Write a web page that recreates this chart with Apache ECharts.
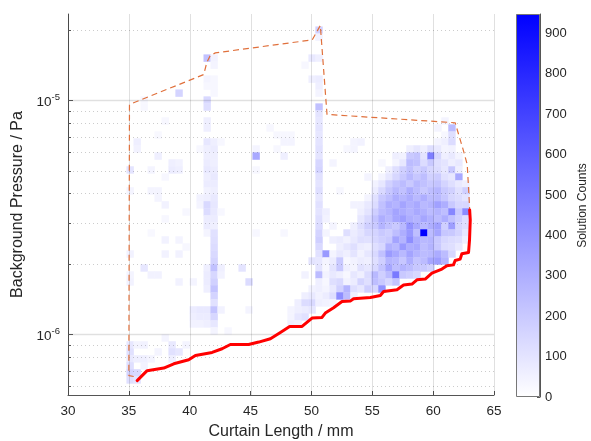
<!DOCTYPE html>
<html>
<head>
<meta charset="utf-8">
<script src="https://cdn.jsdelivr.net/npm/echarts@6/dist/echarts.min.js"></script>
<style>
  html, body { margin: 0; padding: 0; background: #fff; }
  #chart { width: 591px; height: 441px; }
</style>
</head>
<body>
<div id="chart"></div>
<script>
// histogram bin centres (curtain length in mm, pressure in Pa)
const xBins = [35.09, 35.67, 36.24, 36.82, 37.39, 37.97, 38.54, 39.11, 39.69, 40.27, 40.84, 41.42,
  41.99, 42.56, 43.14, 43.71, 44.29, 44.86, 45.44, 46.01, 46.59, 47.16, 47.74, 48.31, 48.89, 49.46,
  50.04, 50.61, 51.19, 51.76, 52.33, 52.91, 53.48, 54.06, 54.63, 55.21, 55.78, 56.36, 56.93, 57.51,
  58.08, 58.66, 59.23, 59.81, 60.38, 60.96, 61.53, 62.10, 62.68];
const yBins = [2.30e-5, 2.14e-5, 2.00e-5, 1.867e-5, 1.743e-5, 1.627e-5, 1.519e-5, 1.417e-5, 1.323e-5,
  1.235e-5, 1.153e-5, 1.076e-5, 1.005e-5, 9.38e-6, 8.76e-6, 8.18e-6, 7.63e-6, 7.12e-6, 6.65e-6, 6.21e-6,
  5.79e-6, 5.41e-6, 5.05e-6, 4.71e-6, 4.40e-6, 4.11e-6, 3.83e-6, 3.58e-6, 3.34e-6, 3.12e-6, 2.91e-6,
  2.715e-6, 2.535e-6, 2.366e-6, 2.208e-6, 2.061e-6, 1.924e-6, 1.796e-6, 1.677e-6, 1.565e-6, 1.461e-6,
  1.364e-6, 1.273e-6, 1.188e-6, 1.109e-6, 1.035e-6, 9.66e-7, 9.02e-7, 8.42e-7, 7.86e-7, 7.34e-7,
  6.85e-7, 6.39e-7];

// [x bin, y bin, solution count]
const cells = [
  [0,22,100],[0,25,40],[0,34,50],[0,37,40],[0,38,50],[0,47,90],[0,48,110],[0,49,80],[0,50,120],[0,51,160],[0,52,120],
  [1,18,60],[1,19,50],[1,47,40],[1,49,60],[1,51,140],[1,52,100],
  [2,12,30],[2,13,30],[2,36,90],[2,47,50],[2,49,60],[2,50,50],
  [3,22,40],[3,25,40],[3,31,25],[3,37,50],[3,49,40],
  [4,17,25],[4,20,60],[4,25,40],[4,26,40],[4,37,50],[4,48,40],
  [5,15,30],[5,23,30],[5,27,50],[5,29,30],[5,32,50],[5,34,50],[5,46,40],
  [6,21,60],[6,22,70],[6,47,80],[6,48,110],[6,49,60],
  [7,11,160],[7,21,50],[7,22,60],[7,32,40],[7,34,50],[7,38,50],[7,48,90],
  [8,28,30],[8,33,30],[8,47,40],
  [9,38,40],[9,42,70],[9,43,60],[9,44,50],
  [10,19,30],[10,26,50],[10,27,40],[10,42,80],[10,43,70],[10,44,50],
  [11,6,230],[11,9,40],[11,10,30],[11,12,140],[11,13,120],[11,15,60],[11,16,60],[11,18,90],[11,19,60],[11,20,60],
  [11,21,70],[11,22,80],[11,23,60],[11,24,70],[11,25,50],[11,26,60],[11,27,140],[11,28,130],[11,29,70],[11,30,70],
  [11,31,40],[11,36,60],[11,37,70],[11,38,70],[11,39,60],[11,42,80],[11,43,70],[11,44,60],
  [12,6,50],[12,7,40],[12,9,30],[12,10,30],[12,11,30],[12,18,60],[12,19,70],[12,20,60],[12,21,60],[12,22,70],
  [12,23,80],[12,24,70],[12,25,60],[12,26,80],[12,27,90],[12,28,80],[12,29,70],[12,30,60],[12,31,110],[12,32,120],
  [12,33,130],[12,34,140],[12,35,160],[12,36,230],[12,37,150],[12,38,170],[12,39,220],[12,40,160],[12,41,110],
  [12,42,220],[12,43,150],[12,44,90],[12,45,40],
  [13,18,30],[13,28,30],[13,36,60],[13,37,50],[13,42,50],
  [14,45,30],
  [16,36,100],
  [17,38,130],[17,42,40],
  [18,19,40],[18,20,320],[18,22,30],[18,31,30],
  [20,16,30],
  [21,17,30],[21,19,30],
  [22,17,30],[22,18,40],[22,20,60],[22,31,30],
  [23,17,30],[23,18,40],[23,42,40],[23,43,40],[23,44,60],
  [24,41,60],[24,42,60],[24,43,90],[24,44,50],
  [25,7,30],[25,37,50],[25,40,60],[25,41,130],[25,42,70],[25,43,110],
  [26,6,80],[26,9,60],[26,35,100],[26,39,50],[26,40,80],[26,41,140],[26,42,90],
  [27,2,170],[27,3,50],[27,6,60],[27,9,70],[27,10,60],[27,11,40],[27,13,230],[27,14,100],[27,15,90],[27,16,100],
  [27,17,90],[27,18,100],[27,19,110],[27,20,100],[27,21,150],[27,22,160],[27,23,110],[27,24,100],[27,25,120],
  [27,26,90],[27,27,110],[27,28,100],[27,29,120],[27,30,130],[27,31,160],[27,32,180],[27,33,140],[27,34,110],
  [27,35,90],[27,36,100],[27,37,250],[27,38,60],[27,39,60],[27,40,50],[27,41,60],
  [28,28,60],[28,29,50],[28,31,40],[28,34,380],[28,35,40],[28,36,30],[28,37,50],[28,38,30],[28,39,40],[28,40,70],[28,41,50],
  [29,21,40],[29,30,40],[29,32,60],[29,34,40],[29,35,70],[29,36,100],[29,37,80],[29,38,120],[29,39,80],[29,40,120],[29,41,40],
  [30,25,30],[30,32,70],[30,33,60],[30,34,80],[30,35,200],[30,36,200],[30,37,60],[30,38,140],[30,39,170],[30,40,420],
  [31,19,30],[31,31,120],[31,32,50],[31,33,90],[31,34,60],[31,35,30],[31,36,60],[31,37,30],[31,38,50],[31,39,280],[31,40,250],
  [32,18,40],[32,19,40],[32,27,50],[32,30,60],[32,31,70],[32,32,80],[32,33,120],[32,34,100],[32,35,50],[32,36,40],
  [32,37,90],[32,38,70],[32,39,120],[32,40,60],
  [33,18,50],[33,27,50],[33,28,60],[33,29,90],[33,30,120],[33,31,100],[33,32,120],[33,33,70],[33,34,50],[33,35,70],
  [33,36,110],[33,37,60],[33,38,160],[33,39,90],
  [34,23,40],[34,26,40],[34,27,80],[34,28,100],[34,29,140],[34,30,180],[34,31,150],[34,32,110],[34,33,60],[34,34,90],
  [34,35,60],[34,36,90],[34,37,130],[34,38,120],[34,39,180],
  [35,24,50],[35,25,70],[35,26,110],[35,27,130],[35,28,180],[35,29,220],[35,30,200],[35,31,160],[35,32,150],[35,33,120],
  [35,34,140],[35,35,120],[35,36,140],[35,37,260],[35,38,240],[35,39,150],
  [36,21,30],[36,23,40],[36,24,90],[36,25,140],[36,26,200],[36,27,230],[36,28,250],[36,29,300],[36,30,280],[36,31,200],
  [36,32,180],[36,33,150],[36,34,230],[36,35,180],[36,36,220],[36,37,180],[36,38,200],[36,39,400],
  [37,22,60],[37,23,90],[37,24,170],[37,25,210],[37,26,240],[37,27,300],[37,28,280],[37,29,260],[37,30,230],[37,31,180],
  [37,32,200],[37,33,290],[37,34,370],[37,35,280],[37,36,330],[37,37,250],[37,38,150],
  [38,20,60],[38,21,40],[38,22,120],[38,23,150],[38,24,220],[38,25,260],[38,26,300],[38,27,280],[38,28,340],[38,29,330],
  [38,30,200],[38,31,240],[38,32,340],[38,33,260],[38,34,320],[38,35,260],[38,36,240],[38,37,500],[38,38,220],
  [39,20,50],[39,21,90],[39,22,180],[39,23,200],[39,24,250],[39,25,230],[39,26,270],[39,27,340],[39,28,310],[39,29,360],
  [39,30,260],[39,31,300],[39,32,280],[39,33,380],[39,34,260],[39,35,210],[39,36,280],[39,37,200],
  [40,19,60],[40,20,200],[40,21,250],[40,22,230],[40,23,260],[40,24,200],[40,25,300],[40,26,310],[40,27,290],[40,28,280],
  [40,29,300],[40,30,400],[40,31,380],[40,32,420],[40,33,300],[40,34,340],[40,35,300],[40,36,250],[40,37,180],
  [41,19,90],[41,20,220],[41,21,230],[41,22,170],[41,23,210],[41,24,260],[41,25,250],[41,26,260],[41,27,320],[41,28,320],
  [41,29,280],[41,30,320],[41,31,240],[41,32,300],[41,33,320],[41,34,280],[41,35,220],[41,36,210],[41,37,150],
  [42,19,60],[42,20,100],[42,21,130],[42,22,200],[42,23,240],[42,24,230],[42,25,200],[42,26,300],[42,27,260],[42,28,290],
  [42,29,330],[42,30,260],[42,31,948],[42,32,260],[42,33,240],[42,34,250],[42,35,250],[42,36,200],
  [43,19,120],[43,20,480],[43,21,200],[43,22,150],[43,23,170],[43,24,200],[43,25,240],[43,26,250],[43,27,280],[43,28,250],
  [43,29,290],[43,30,300],[43,31,250],[43,32,270],[43,33,280],[43,34,260],[43,35,330],[43,36,170],
  [44,16,40],[44,18,40],[44,19,80],[44,20,150],[44,21,120],[44,22,130],[44,23,190],[44,24,220],[44,25,270],[44,26,260],
  [44,27,350],[44,28,280],[44,29,250],[44,30,350],[44,31,330],[44,32,200],[44,33,200],[44,34,310],[44,35,360],
  [45,15,40],[45,17,30],[45,18,60],[45,19,40],[45,20,60],[45,21,100],[45,22,90],[45,23,110],[45,24,160],[45,25,200],
  [45,26,210],[45,27,300],[45,28,240],[45,29,300],[45,30,180],[45,31,210],[45,32,150],[45,33,130],[45,34,250],[45,35,280],
  [46,16,250],[46,17,120],[46,18,130],[46,19,50],[46,20,80],[46,21,60],[46,22,200],[46,23,90],[46,24,120],[46,25,170],
  [46,26,150],[46,27,200],[46,28,450],[46,29,230],[46,30,360],[46,31,200],[46,32,130],[46,33,120],[46,34,150],
  [47,20,40],[47,21,80],[47,22,60],[47,23,320],[47,24,80],[47,25,110],[47,26,130],[47,27,150],[47,28,200],[47,29,180],
  [47,30,150],[47,31,160],[47,32,120],[47,33,80],
  [48,24,60],[48,25,180],[48,26,100],[48,27,150],[48,28,430],[48,29,120],[48,30,120],[48,31,90],[48,32,60]
];

// lower boundary (red) and outer envelope (dashed)
const lowerX = [35.68, 36.50, 37.87, 38.69, 39.92, 40.47, 41.84, 42.66, 43.34, 44.84, 45.67, 46.63, 47.45, 48.21,
  49.23, 50.05, 50.87, 51.14, 51.82, 52.51, 53.19, 53.46, 54.84, 55.66, 55.93, 57.03, 57.57, 58.26, 58.67, 59.35,
  59.90, 60.72, 61.13, 61.67, 61.81, 62.22, 62.36, 62.91, 62.99, 63.05, 63.00];
const lowerY = [6.34e-7, 6.99e-7, 7.17e-7, 7.48e-7, 7.78e-7, 8.12e-7, 8.36e-7, 8.67e-7, 9.04e-7, 9.04e-7, 9.26e-7,
  9.57e-7, 1.018e-6, 1.08e-6, 1.08e-6, 1.173e-6, 1.18e-6, 1.232e-6, 1.298e-6, 1.381e-6, 1.386e-6, 1.418e-6,
  1.437e-6, 1.465e-6, 1.524e-6, 1.55e-6, 1.623e-6, 1.639e-6, 1.71e-6, 1.722e-6, 1.826e-6, 1.90e-6, 1.963e-6,
  1.98e-6, 2.067e-6, 2.096e-6, 2.21e-6, 2.237e-6, 2.535e-6, 3.08e-6, 3.40e-6];
const envX = [35.40, 35.00, 35.05, 35.20, 41.15, 41.41, 41.70, 42.11, 50.07, 50.73, 51.28, 61.81, 62.50, 62.80, 62.96, 63.00];
const envY = [6.6e-7, 6.65e-7, 9.6e-6, 9.75e-6, 1.29e-5, 1.454e-5, 1.558e-5, 1.596e-5, 1.814e-5, 2.09e-5, 8.71e-6,
  8.02e-6, 6.07e-6, 5.32e-6, 3.77e-6, 3.40e-6];

// axis ticks
const xTicks = [30, 35, 40, 45, 50, 55, 60, 65];
const yMajor = [1e-6, 1e-5];
const yMinor = [6e-7, 7e-7, 8e-7, 9e-7, 2e-6, 3e-6, 4e-6, 5e-6, 6e-6, 7e-6, 8e-6, 9e-6, 2e-5];

const xMin = 30, xMax = 65;
const yMin = 5.5e-7, yMax = 2.34e-5;
const countMax = 948;
const cellW = 0.575;                 // mm
const cellH = Math.pow(10, 0.015);   // half bin height in log space

const textColor = '#262626';
const axisColor = '#555';
const font = 'Liberation Sans';

const cellData = cells.map(([i, j, n]) => [xBins[i], yBins[j], n]);

function crisp(v) { return Math.round(v) + 0.5; }

const chart = echarts.init(document.getElementById('chart'), null, { renderer: 'canvas' });

const option = {
  animation: false,
  textStyle: { fontFamily: font },
  grid: [
    { left: 68, right: 97, top: 14, bottom: 46, outerBoundsMode: 'none', containLabel: false },
    { left: 516, top: 14, width: 24, height: 383, outerBoundsMode: 'none', containLabel: false }
  ],
  xAxis: [
    {
      type: 'value', gridIndex: 0, min: xMin, max: xMax, interval: 5,
      name: 'Curtain Length / mm', nameLocation: 'middle', nameGap: 29,
      nameTextStyle: { color: textColor, fontSize: 16, fontFamily: font },
      axisLine: { lineStyle: { color: axisColor } },
      axisTick: { inside: true, length: 4, lineStyle: { color: axisColor } },
      axisLabel: { color: textColor, fontSize: 13.5, margin: 9, fontFamily: font },
      splitLine: { show: false }
    },
    { type: 'category', gridIndex: 1, data: ['c'], show: false }
  ],
  yAxis: [
    {
      type: 'log', gridIndex: 0, min: yMin, max: yMax, logBase: 10,
      name: 'Background Pressure / Pa', nameLocation: 'middle', nameGap: 38,
      nameTextStyle: { color: textColor, fontSize: 16, fontFamily: font },
      axisLine: { show: true, lineStyle: { color: axisColor } },
      axisTick: { show: false },
      splitLine: { show: false },
      axisLabel: {
        margin: 8, showMinLabel: false, showMaxLabel: false,
        formatter: v => {
          const l = Math.log10(v), e = Math.round(l);
          return Math.abs(l - e) < 1e-6 ? '{b|10}{e|' + e + '}' : '';
        },
        rich: {
          b: { fontSize: 13.5, color: textColor, fontFamily: font, padding: [4, 0, 0, 0] },
          e: { fontSize: 9.5, color: textColor, fontFamily: font, padding: [0, 0, 6, 0] }
        }
      }
    },
    {
      type: 'value', gridIndex: 1, min: 0, max: countMax, interval: 100, position: 'right',
      name: 'Solution Counts', nameLocation: 'middle', nameGap: 37, nameRotate: 90,
      nameTextStyle: { color: textColor, fontSize: 12, fontFamily: font },
      axisLine: { show: true, lineStyle: { color: axisColor } },
      axisTick: { show: true, inside: true, length: 3, lineStyle: { color: axisColor } },
      axisLabel: { color: textColor, fontSize: 13, margin: 5, showMaxLabel: false, fontFamily: font },
      splitLine: { show: false }
    }
  ],
  visualMap: {
    show: false, type: 'continuous', seriesIndex: 0, dimension: 2,
    min: 0, max: countMax, inRange: { color: ['#ffffff', '#0000ff'] }
  },
  series: [
    {
      name: 'counts', type: 'custom', xAxisIndex: 0, yAxisIndex: 0, z: 2,
      encode: { x: 0, y: 1 },
      data: cellData,
      renderItem(params, api) {
        const x = api.value(0), y = api.value(1);
        const p0 = api.coord([x - cellW / 2, y / cellH]);
        const p1 = api.coord([x + cellW / 2, y * cellH]);
        return {
          type: 'rect',
          shape: { x: p0[0], y: p1[1], width: p1[0] - p0[0] + 0.4, height: p0[1] - p1[1] + 0.4 },
          style: { fill: api.visual('color') }
        };
      }
    },
    {
      name: 'xgrid', type: 'custom', xAxisIndex: 0, yAxisIndex: 0, z: 3, silent: true,
      encode: { x: 0, y: 1 },
      data: xTicks.map(v => [v, yMin]),
      renderItem(params, api) {
        const a = api.coord([api.value(0), yMin]);
        const b = api.coord([api.value(0), yMax]);
        const x = crisp(a[0]);
        return { type: 'line', shape: { x1: x, y1: a[1], x2: x, y2: b[1] },
          style: { stroke: 'rgba(0,0,0,0.12)', lineWidth: 1 } };
      }
    },
    {
      name: 'ymajor', type: 'custom', xAxisIndex: 0, yAxisIndex: 0, z: 3, silent: true,
      encode: { x: 0, y: 1 },
      data: yMajor.map(v => [xMin, v]),
      renderItem(params, api) {
        const a = api.coord([xMin, api.value(1)]);
        const b = api.coord([xMax, api.value(1)]);
        const y = crisp(a[1]);
        return { type: 'group', children: [
          { type: 'line', shape: { x1: a[0], y1: y, x2: b[0], y2: y },
            style: { stroke: 'rgba(0,0,0,0.12)', lineWidth: 1.5 } },
          { type: 'line', shape: { x1: a[0], y1: y, x2: a[0] + 5, y2: y },
            style: { stroke: axisColor, lineWidth: 1 } }
        ] };
      }
    },
    {
      name: 'yminor', type: 'custom', xAxisIndex: 0, yAxisIndex: 0, z: 3, silent: true,
      encode: { x: 0, y: 1 },
      data: yMinor.map(v => [xMin, v]),
      renderItem(params, api) {
        const a = api.coord([xMin, api.value(1)]);
        const b = api.coord([xMax, api.value(1)]);
        const y = crisp(a[1]);
        return { type: 'group', children: [
          { type: 'line', shape: { x1: a[0] + 1, y1: y, x2: b[0], y2: y },
            style: { stroke: 'rgba(0,0,0,0.2)', lineWidth: 1, lineDash: [1, 3] } },
          { type: 'line', shape: { x1: a[0], y1: y, x2: a[0] + 3, y2: y },
            style: { stroke: axisColor, lineWidth: 1 } }
        ] };
      }
    },
    {
      name: 'envelope', type: 'line', xAxisIndex: 0, yAxisIndex: 0, z: 4,
      data: envX.map((x, i) => [x, envY[i]]),
      symbol: 'none', silent: true,
      lineStyle: { color: '#e0703c', width: 1.2, type: [6, 4] }
    },
    {
      name: 'lower bound', type: 'line', xAxisIndex: 0, yAxisIndex: 0, z: 5,
      data: lowerX.map((x, i) => [x, lowerY[i]]),
      symbol: 'none', silent: true,
      lineStyle: { color: '#ff0000', width: 3, join: 'round', cap: 'round' }
    },
    {
      name: 'colorbar', type: 'bar', xAxisIndex: 1, yAxisIndex: 1, barWidth: '100%',
      data: [countMax], silent: true,
      itemStyle: {
        color: new echarts.graphic.LinearGradient(0, 0, 0, 1, [
          { offset: 0, color: '#0000ff' }, { offset: 1, color: '#ffffff' }
        ]),
        borderColor: '#777', borderWidth: 1
      }
    }
  ]
};

chart.setOption(option);
</script>
</body>
</html>
